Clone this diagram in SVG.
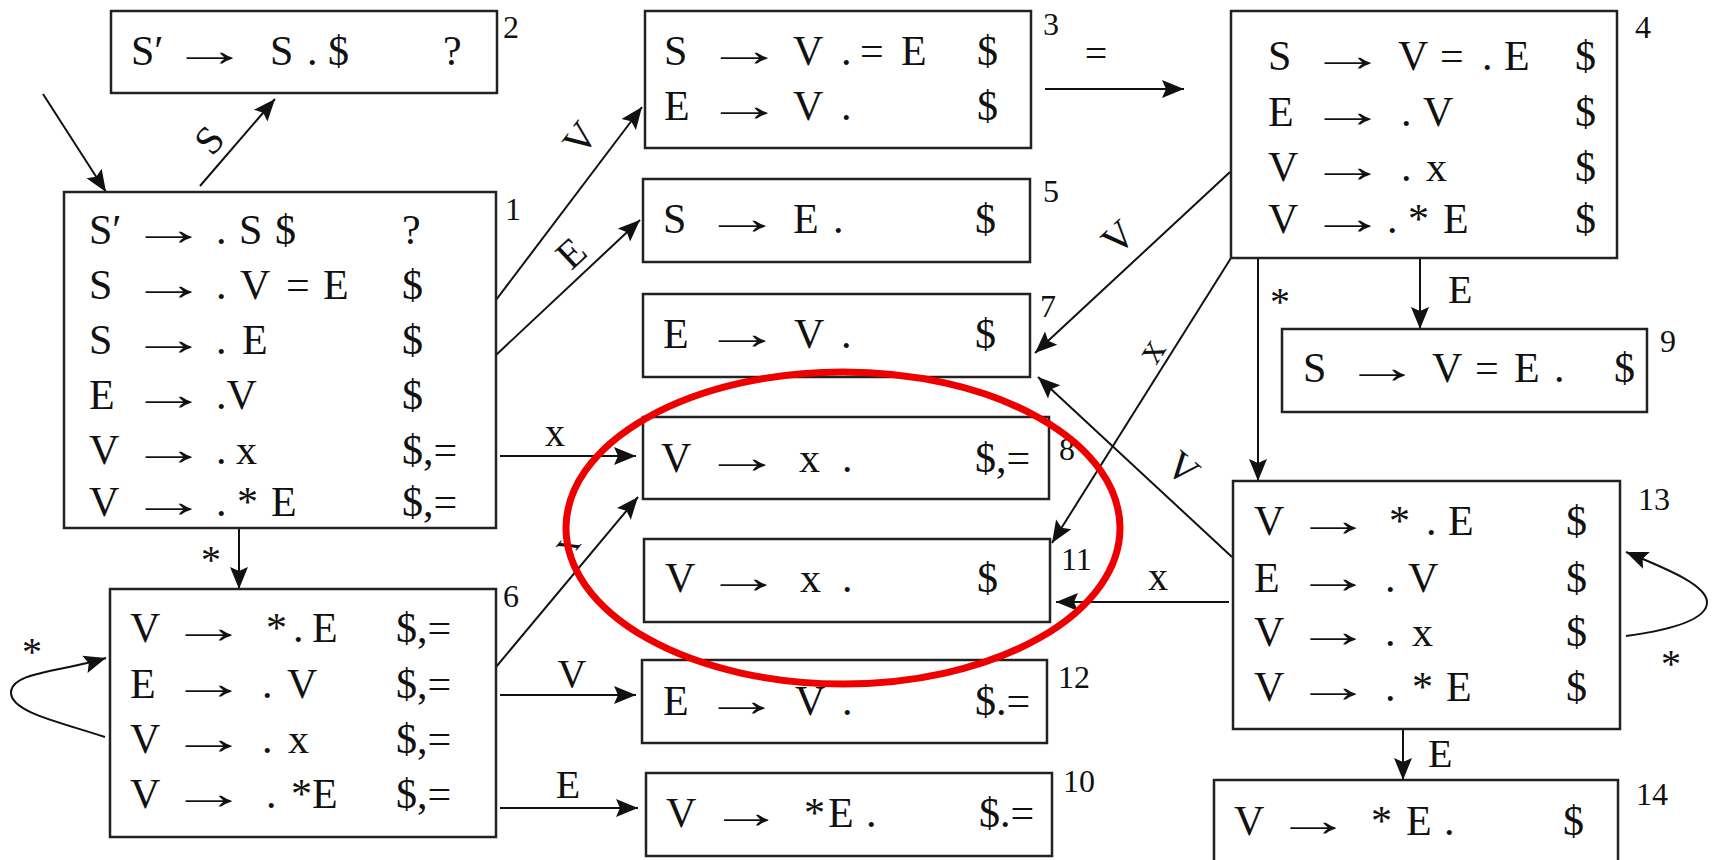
<svg xmlns="http://www.w3.org/2000/svg" width="1713" height="860" viewBox="0 0 1713 860">
<style>
.t{font-family:"Liberation Serif","Times New Roman",serif;font-size:42px;fill:#111}
.a{font-family:"Liberation Serif","Times New Roman",serif;font-size:46px;fill:#111}
.n{font-family:"Liberation Serif","Times New Roman",serif;font-size:32px;fill:#111}
.lb{font-family:"Liberation Serif","Times New Roman",serif;font-size:40px;fill:#111}
.box{fill:#fff;stroke:#222;stroke-width:2.5}
.ln{fill:none;stroke:#111;stroke-width:2;marker-end:url(#ah)}
.ring{fill:none;stroke:#ee0000;stroke-width:7}
</style>
<defs>
<marker id="ah" markerUnits="userSpaceOnUse" markerWidth="24" markerHeight="20" refX="22" refY="9" orient="auto" overflow="visible">
<path d="M0,0 L22,9 L0,18 L4,9 z" fill="#111"/>
</marker>
</defs>
<rect width="1713" height="860" fill="#fff"/>

<g id="connectors">
<path class="ln" d="M43,94 L106,192"/>
<path class="ln" d="M200,186 L275,99"/>
<path class="ln" d="M496,300 L642,107"/>
<path class="ln" d="M496,355 L640,220"/>
<path class="ln" d="M500,456 L636,456"/>
<path class="ln" d="M239,528 L239,589"/>
<path class="ln" d="M496,667 L638,497"/>
<path class="ln" d="M500,695 L636,695"/>
<path class="ln" d="M500,808 L638,808"/>
<path class="ln" d="M1045,89 L1184,89"/>
<path class="ln" d="M1230,172 L1035,353"/>
<path class="ln" d="M1231,258 L1052,543"/>
<path class="ln" d="M1420,258 L1420,329"/>
<path class="ln" d="M1258,258 L1258,481"/>
<path class="ln" d="M1232,557 L1038,377"/>
<path class="ln" d="M1229,602 L1056,602"/>
<path class="ln" d="M1403,729 L1403,780"/>
<path class="ln" d="M105,737 C60,722 10,712 11,692 C12,672 60,672 106,658"/>
<path class="ln" d="M1626,636 C1670,630 1706,620 1707,603 C1708,586 1670,570 1626,552"/>
<text class="lb" text-anchor="middle" dominant-baseline="central" transform="translate(209,140) rotate(-49)">S</text>
<text class="lb" text-anchor="middle" dominant-baseline="central" transform="translate(580,138) rotate(-53)">V</text>
<text class="lb" text-anchor="middle" dominant-baseline="central" transform="translate(571,253) rotate(-43)">E</text>
<text class="lb" text-anchor="middle" x="555" y="446">x</text>
<text class="lb" text-anchor="middle" x="211" y="573">*</text>
<text class="lb" text-anchor="middle" dominant-baseline="central" transform="translate(565,543) rotate(-50)">x</text>
<text class="lb" text-anchor="middle" x="572" y="687">V</text>
<text class="lb" text-anchor="middle" x="568" y="798">E</text>
<text class="lb" text-anchor="middle" x="1096" y="67">=</text>
<text class="lb" text-anchor="middle" dominant-baseline="central" transform="translate(1118,237) rotate(-43)">V</text>
<text class="lb" text-anchor="middle" dominant-baseline="central" transform="translate(1150,350) rotate(-58)">x</text>
<text class="lb" x="1448" y="303">E</text>
<text class="lb" text-anchor="middle" x="1280" y="315">*</text>
<text class="lb" text-anchor="middle" dominant-baseline="central" transform="translate(1183,468) rotate(40)">V</text>
<text class="lb" text-anchor="middle" x="1158" y="590">x</text>
<text class="lb" x="1428" y="767">E</text>
<text class="lb" text-anchor="middle" x="32" y="665">*</text>
<text class="lb" text-anchor="middle" x="1671" y="677">*</text>
</g>

<g id="n2">
<rect class="box" x="111" y="11" width="386" height="82"/>
<text class="t" y="65"><tspan x="131">S′</tspan><tspan x="270">S</tspan><tspan x="307">.</tspan><tspan x="328">$</tspan><tspan x="443">?</tspan></text>
<text class="a" x="171" y="65" dy="1" textLength="78" lengthAdjust="spacingAndGlyphs">→</text>
<text class="n" x="503" y="38">2</text>
</g>

<g id="n1">
<rect class="box" x="64" y="192" width="432" height="336"/>
<text class="t" y="244"><tspan x="89">S′</tspan><tspan x="216">.</tspan><tspan x="239">S</tspan><tspan x="275">$</tspan><tspan x="402">?</tspan></text>
<text class="t" y="299"><tspan x="89">S</tspan><tspan x="216">.</tspan><tspan x="240">V</tspan><tspan x="286">=</tspan><tspan x="323">E</tspan><tspan x="402">$</tspan></text>
<text class="t" y="354"><tspan x="89">S</tspan><tspan x="216">.</tspan><tspan x="242">E</tspan><tspan x="402">$</tspan></text>
<text class="t" y="409"><tspan x="89">E</tspan><tspan x="216">.V</tspan><tspan x="402">$</tspan></text>
<text class="t" y="464"><tspan x="89">V</tspan><tspan x="216">.</tspan><tspan x="236">x</tspan><tspan x="402">$,=</tspan></text>
<text class="t" y="516"><tspan x="89">V</tspan><tspan x="216">.</tspan><tspan x="237">*</tspan><tspan x="271">E</tspan><tspan x="402">$,=</tspan></text>
<text class="a" x="130" y="244" dy="1" textLength="78" lengthAdjust="spacingAndGlyphs">→</text>
<text class="a" x="130" y="299" dy="1" textLength="78" lengthAdjust="spacingAndGlyphs">→</text>
<text class="a" x="130" y="354" dy="1" textLength="78" lengthAdjust="spacingAndGlyphs">→</text>
<text class="a" x="130" y="409" dy="1" textLength="78" lengthAdjust="spacingAndGlyphs">→</text>
<text class="a" x="130" y="464" dy="1" textLength="78" lengthAdjust="spacingAndGlyphs">→</text>
<text class="a" x="130" y="516" dy="1" textLength="78" lengthAdjust="spacingAndGlyphs">→</text>
<text class="n" x="505" y="220">1</text>
</g>

<g id="n6">
<rect class="box" x="110" y="589" width="386" height="248"/>
<text class="t" y="642"><tspan x="130">V</tspan><tspan x="266">*</tspan><tspan x="293">.</tspan><tspan x="312">E</tspan><tspan x="396">$,=</tspan></text>
<text class="t" y="698"><tspan x="130">E</tspan><tspan x="262">.</tspan><tspan x="287">V</tspan><tspan x="396">$,=</tspan></text>
<text class="t" y="753"><tspan x="130">V</tspan><tspan x="262">.</tspan><tspan x="288">x</tspan><tspan x="396">$,=</tspan></text>
<text class="t" y="808"><tspan x="130">V</tspan><tspan x="266">.</tspan><tspan x="291">*</tspan><tspan x="312">E</tspan><tspan x="396">$,=</tspan></text>
<text class="a" x="170" y="642" dy="1" textLength="78" lengthAdjust="spacingAndGlyphs">→</text>
<text class="a" x="170" y="698" dy="1" textLength="78" lengthAdjust="spacingAndGlyphs">→</text>
<text class="a" x="170" y="753" dy="1" textLength="78" lengthAdjust="spacingAndGlyphs">→</text>
<text class="a" x="170" y="808" dy="1" textLength="78" lengthAdjust="spacingAndGlyphs">→</text>
<text class="n" x="503" y="607">6</text>
</g>

<g id="n3">
<rect class="box" x="645" y="11" width="386" height="137"/>
<text class="t" y="65"><tspan x="664">S</tspan><tspan x="793">V</tspan><tspan x="841">.</tspan><tspan x="860">=</tspan><tspan x="901">E</tspan><tspan x="977">$</tspan></text>
<text class="t" y="120"><tspan x="664">E</tspan><tspan x="793">V</tspan><tspan x="841">.</tspan><tspan x="977">$</tspan></text>
<text class="a" x="705" y="65" dy="1" textLength="79" lengthAdjust="spacingAndGlyphs">→</text>
<text class="a" x="705" y="120" dy="1" textLength="79" lengthAdjust="spacingAndGlyphs">→</text>
<text class="n" x="1043" y="35">3</text>
</g>

<g id="n5">
<rect class="box" x="643" y="179" width="387" height="83"/>
<text class="t" y="233"><tspan x="663">S</tspan><tspan x="793">E</tspan><tspan x="833">.</tspan><tspan x="975">$</tspan></text>
<text class="a" x="703" y="233" dy="1" textLength="79" lengthAdjust="spacingAndGlyphs">→</text>
<text class="n" x="1043" y="202">5</text>
</g>

<g id="n7">
<rect class="box" x="643" y="294" width="387" height="83"/>
<text class="t" y="348"><tspan x="663">E</tspan><tspan x="794">V</tspan><tspan x="841">.</tspan><tspan x="975">$</tspan></text>
<text class="a" x="703" y="348" dy="1" textLength="79" lengthAdjust="spacingAndGlyphs">→</text>
<text class="n" x="1040" y="317">7</text>
</g>

<g id="n8">
<rect class="box" x="643" y="417" width="406" height="82"/>
<text class="t" y="472"><tspan x="661">V</tspan><tspan x="799">x</tspan><tspan x="842">.</tspan><tspan x="975">$,=</tspan></text>
<text class="a" x="703" y="472" dy="1" textLength="79" lengthAdjust="spacingAndGlyphs">→</text>
<text class="n" x="1059" y="460">8</text>
</g>

<g id="n11">
<rect class="box" x="644" y="539" width="406" height="83"/>
<text class="t" y="592"><tspan x="665">V</tspan><tspan x="800">x</tspan><tspan x="842">.</tspan><tspan x="977">$</tspan></text>
<text class="a" x="705" y="592" dy="1" textLength="78" lengthAdjust="spacingAndGlyphs">→</text>
<text class="n" x="1061" y="570">11</text>
</g>

<g id="n12">
<rect class="box" x="642" y="660" width="405" height="83"/>
<text class="t" y="715"><tspan x="663">E</tspan><tspan x="795">V</tspan><tspan x="842">.</tspan><tspan x="975">$.=</tspan></text>
<text class="a" x="703" y="715" dy="1" textLength="78" lengthAdjust="spacingAndGlyphs">→</text>
<text class="n" x="1058" y="688">12</text>
</g>

<g id="n10">
<rect class="box" x="646" y="773" width="406" height="83"/>
<text class="t" y="827"><tspan x="666">V</tspan><tspan x="804">*</tspan><tspan x="828">E</tspan><tspan x="866">.</tspan><tspan x="979">$.=</tspan></text>
<text class="a" x="709" y="827" dy="1" textLength="75" lengthAdjust="spacingAndGlyphs">→</text>
<text class="n" x="1063" y="792">10</text>
</g>

<g id="n4">
<rect class="box" x="1231" y="11" width="386" height="247"/>
<text class="t" y="70"><tspan x="1268">S</tspan><tspan x="1398">V</tspan><tspan x="1440">=</tspan><tspan x="1482">.</tspan><tspan x="1504">E</tspan><tspan x="1575">$</tspan></text>
<text class="t" y="126"><tspan x="1268">E</tspan><tspan x="1401">.</tspan><tspan x="1423">V</tspan><tspan x="1575">$</tspan></text>
<text class="t" y="181"><tspan x="1268">V</tspan><tspan x="1401">.</tspan><tspan x="1426">x</tspan><tspan x="1575">$</tspan></text>
<text class="t" y="233"><tspan x="1268">V</tspan><tspan x="1387">.</tspan><tspan x="1408">*</tspan><tspan x="1443">E</tspan><tspan x="1575">$</tspan></text>
<text class="a" x="1309" y="70" dy="1" textLength="78" lengthAdjust="spacingAndGlyphs">→</text>
<text class="a" x="1309" y="126" dy="1" textLength="78" lengthAdjust="spacingAndGlyphs">→</text>
<text class="a" x="1309" y="181" dy="1" textLength="78" lengthAdjust="spacingAndGlyphs">→</text>
<text class="a" x="1309" y="233" dy="1" textLength="78" lengthAdjust="spacingAndGlyphs">→</text>
<text class="n" x="1635" y="38">4</text>
</g>

<g id="n9">
<rect class="box" x="1282" y="329" width="365" height="83"/>
<text class="t" y="382"><tspan x="1303">S</tspan><tspan x="1432">V</tspan><tspan x="1475">=</tspan><tspan x="1514">E</tspan><tspan x="1554">.</tspan><tspan x="1614">$</tspan></text>
<text class="a" x="1344" y="382" dy="1" textLength="77" lengthAdjust="spacingAndGlyphs">→</text>
<text class="n" x="1660" y="352">9</text>
</g>

<g id="n13">
<rect class="box" x="1233" y="481" width="387" height="248"/>
<text class="t" y="535"><tspan x="1254">V</tspan><tspan x="1389">*</tspan><tspan x="1426">.</tspan><tspan x="1448">E</tspan><tspan x="1566">$</tspan></text>
<text class="t" y="592"><tspan x="1254">E</tspan><tspan x="1385">.</tspan><tspan x="1408">V</tspan><tspan x="1566">$</tspan></text>
<text class="t" y="646"><tspan x="1254">V</tspan><tspan x="1385">.</tspan><tspan x="1412">x</tspan><tspan x="1566">$</tspan></text>
<text class="t" y="701"><tspan x="1254">V</tspan><tspan x="1385">.</tspan><tspan x="1412">*</tspan><tspan x="1446">E</tspan><tspan x="1566">$</tspan></text>
<text class="a" x="1295" y="535" dy="1" textLength="77" lengthAdjust="spacingAndGlyphs">→</text>
<text class="a" x="1295" y="592" dy="1" textLength="77" lengthAdjust="spacingAndGlyphs">→</text>
<text class="a" x="1295" y="646" dy="1" textLength="77" lengthAdjust="spacingAndGlyphs">→</text>
<text class="a" x="1295" y="701" dy="1" textLength="77" lengthAdjust="spacingAndGlyphs">→</text>
<text class="n" x="1638" y="510">13</text>
</g>

<g id="n14">
<rect class="box" x="1214" y="780" width="404" height="100"/>
<text class="t" y="835"><tspan x="1234">V</tspan><tspan x="1371">*</tspan><tspan x="1406">E</tspan><tspan x="1444">.</tspan><tspan x="1563">$</tspan></text>
<text class="a" x="1275" y="835" dy="1" textLength="77" lengthAdjust="spacingAndGlyphs">→</text>
<text class="n" x="1636" y="805">14</text>
</g>

<g id="highlight">
<ellipse class="ring" cx="843" cy="528" rx="277" ry="156"/>
</g>
</svg>
